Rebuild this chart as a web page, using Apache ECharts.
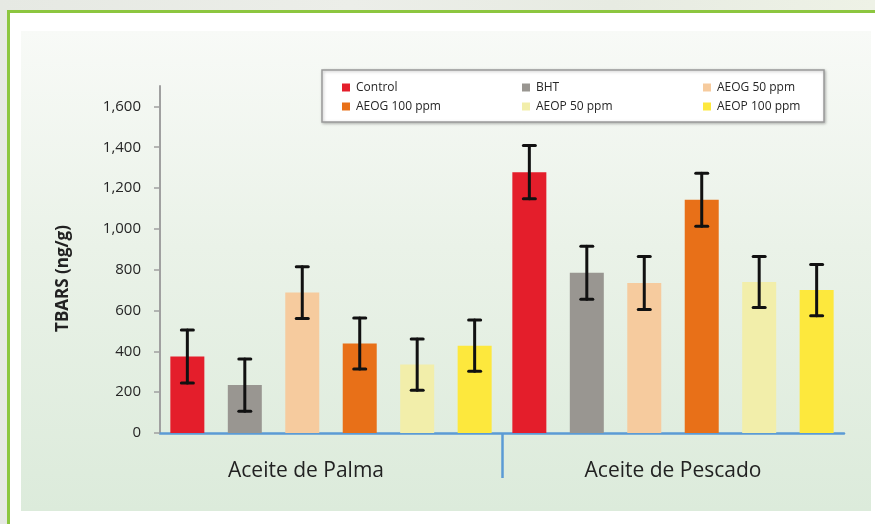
<!DOCTYPE html>
<html>
<head>
<meta charset="utf-8">
<script src="https://cdn.jsdelivr.net/npm/echarts@6/dist/echarts.min.js"></script>
<style>
  html, body { margin: 0; padding: 0; }
  body { width: 875px; height: 524px; position: relative; overflow: hidden;
         background: linear-gradient(90deg, #e6e9e3 0%, #eceee9 40%, #e7ebe2 70%, #eef2e6 100%); }
  #frame { position: absolute; left: 7px; top: 10px; width: 880px; height: 530px;
           border-top: 3px solid #8cc63f; border-left: 3px solid #8cc63f; background: #ffffff; }
  #panel { position: absolute; left: 21px; top: 31px; width: 850px; height: 480px;
           background: linear-gradient(180deg, #f8faf7 0%, #eaf2e8 45%, #dcebdb 100%); }
  #chart { position: absolute; left: 0; top: 0; width: 875px; height: 524px; }
</style>
</head>
<body>
<div id="frame"></div>
<div id="panel"></div>
<div id="chart"></div>
<script>
// ---- data ----
const categories = ['Aceite de Palma', 'Aceite de Pescado'];
const seriesNames = ['Control', 'BHT', 'AEOG 50 ppm', 'AEOG 100 ppm', 'AEOP 50 ppm', 'AEOP 100 ppm'];
const control   = [375, 1278];
const bht       = [235, 785];
const aeog50    = [688, 735];
const aeog100   = [438, 1143];
const aeop50    = [335, 740];
const aeop100   = [428, 700];
const errControl = [130, 130];
const errBht     = [128, 130];
const errAeog50  = [127, 130];
const errAeog100 = [125, 130];
const errAeop50  = [126, 125];
const errAeop100 = [125, 125];
const yTickValues = [0, 200, 400, 600, 800, 1000, 1200, 1400, 1600];

const values = [control, bht, aeog50, aeog100, aeop50, aeop100];
const errors = [errControl, errBht, errAeog50, errAeog100, errAeop50, errAeop100];
const colors = ['#e41e2b', '#999691', '#f6cb9e', '#e87018', '#f2eeaa', '#fde83d'];

const BAR_W = 34;
const GAP = 0.69;
const PITCH = BAR_W * (1 + GAP);
const FONT = '"Open Sans", Lato, sans-serif';

const chart = echarts.init(document.getElementById('chart'), null, { renderer: 'canvas' });

const barSeries = seriesNames.map((name, i) => ({
  name: name,
  type: 'bar',
  data: values[i],
  barWidth: BAR_W,
  barGap: (GAP * 100) + '%',
  itemStyle: { color: colors[i] },
  emphasis: { disabled: true },
  z: 2
}));

const errData = [];
values.forEach((arr, s) => {
  arr.forEach((v, c) => { errData.push([c, v, errors[s][c], s]); });
});

const errSeries = {
  type: 'custom',
  name: 'err',
  data: errData,
  z: 5,
  silent: true,
  renderItem: function (params, api) {
    const c = api.value(0), v = api.value(1), e = api.value(2), s = api.value(3);
    const off = (s - 2.5) * PITCH;
    const top = api.coord([c, v + e]);
    const bot = api.coord([c, v - e]);
    const x = top[0] + off;
    const cap = 6;
    const st = { stroke: '#111111', lineWidth: 3, lineCap: 'round' };
    return {
      type: 'group',
      children: [
        { type: 'line', shape: { x1: x, y1: top[1], x2: x, y2: bot[1] }, style: st },
        { type: 'line', shape: { x1: x - cap, y1: top[1], x2: x + cap, y2: top[1] }, style: st },
        { type: 'line', shape: { x1: x - cap, y1: bot[1], x2: x + cap, y2: bot[1] }, style: st }
      ]
    };
  }
};

const legendCommon = {
  orient: 'vertical',
  icon: 'rect',
  itemWidth: 8,
  itemHeight: 8,
  itemGap: 2,
  top: 74,
  selectedMode: false,
  textStyle: { color: '#262626', fontSize: 12, fontFamily: FONT, lineHeight: 17, padding: [0, 0, 0, 1] }
};

chart.setOption({
  backgroundColor: 'transparent',
  animation: false,
  graphic: [{
    type: 'rect',
    shape: { x: 322, y: 70, width: 502, height: 52 },
    style: { fill: '#ffffff', stroke: '#9a9a9a', lineWidth: 1.5,
             shadowBlur: 3, shadowColor: 'rgba(0,0,0,0.25)', shadowOffsetX: 1, shadowOffsetY: 1 },
    z: 0
  }],
  legend: [
    Object.assign({}, legendCommon, { left: 337, data: [seriesNames[0], seriesNames[3]] }),
    Object.assign({}, legendCommon, { left: 517, data: [seriesNames[1], seriesNames[4]] }),
    Object.assign({}, legendCommon, { left: 698, data: [seriesNames[2], seriesNames[5]] })
  ],
  grid: { left: 160, right: 31, top: 86, bottom: 91, containLabel: false },
  xAxis: [{
    type: 'category',
    data: categories,
    axisLine: { lineStyle: { color: '#5b9bd5', width: 2.5 } },
    axisTick: { show: false },
    axisLabel: {
      margin: 28,
      color: '#222222',
      fontSize: 21,
      fontFamily: FONT,
      formatter: function (v, i) { return i === 0 ? '{a|' + v + '}' : '{b|' + v + '}'; },
      rich: {
        a: { fontSize: 21, fontFamily: FONT, color: '#222222', padding: [0, 50, 0, 0] },
        b: { fontSize: 21, fontFamily: FONT, color: '#222222' }
      }
    },
    splitLine: { show: false }
  }, {
    type: 'value',
    min: 0, max: categories.length,
    position: 'bottom',
    axisLine: { show: false },
    axisTick: { show: true, customValues: [1], length: 45, lineStyle: { color: '#5b9bd5', width: 2.5 } },
    axisLabel: { show: false },
    splitLine: { show: false }
  }],
  yAxis: {
    type: 'value',
    min: 0,
    max: 1700,
    name: 'TBARS (ng/g)',
    nameLocation: 'middle',
    nameGap: 88,
    nameRotate: 90,
    nameTextStyle: { color: '#222222', fontSize: 17, fontWeight: 'bold', fontFamily: FONT, padding: [0, 38, 0, 0] },
    axisLine: { show: true, lineStyle: { color: '#a0a0a0', width: 2 } },
    axisTick: { show: true, customValues: yTickValues, length: 6, lineStyle: { color: '#a0a0a0', width: 1.5 } },
    axisLabel: {
      customValues: yTickValues,
      margin: 19,
      color: '#262626',
      fontSize: 15,
      fontFamily: FONT,
      formatter: function (v) { return Number(v).toLocaleString('en-US'); }
    },
    splitLine: { show: false }
  },
  series: barSeries.concat([errSeries])
});
</script>
</body>
</html>
